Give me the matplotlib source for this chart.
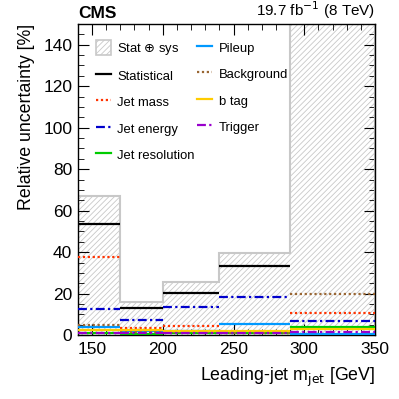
import matplotlib
matplotlib.use("Agg")
import matplotlib.pyplot as plt
import numpy as np
from matplotlib.patches import Patch
from matplotlib.lines import Line2D
from matplotlib.ticker import MultipleLocator

plt.rcParams['font.family'] = ['Liberation Sans', 'DejaVu Sans']
plt.rcParams['hatch.color'] = '#c8c8c8'
plt.rcParams['hatch.linewidth'] = 0.6

edges = [140, 170, 200, 240, 290, 350]
stat_sys = [67, 16, 25.5, 39.5, 160]
statistical = [53.5, 13, 20.5, 33.5, 155]
jet_mass = [37.5, 3.5, 4.5, 1.5, 10.5]
jet_energy = [12.5, 7.5, 13.5, 18.5, 7]
jet_res = [1.0, 0.8, 1.0, 1.0, 4.0]
pileup = [4.0, 2.0, 2.0, 5.5, 0.8]
background = [5.0, 1.5, 1.5, 1.2, 20]
btag = [2.5, 2.5, 2.0, 2.0, 3.0]
trigger = [1.0, 1.0, 1.0, 1.0, 1.5]

fig = plt.figure(figsize=(3.99, 3.99), dpi=100)
ax = fig.add_axes([0.195, 0.16, 0.745, 0.78])

ax.stairs(stat_sys, edges, fill=True, facecolor='white', edgecolor='#c8c8c8',
          hatch='//////', linewidth=0, zorder=1)
ax.stairs(stat_sys, edges, fill=False, edgecolor='#c8c8c8', linewidth=1.5, zorder=2)

dashdot = (0, (4, 1.5, 1, 1.5))
dotted = (0, (1, 1.2))
lo = np.array(edges[:-1]); hi = np.array(edges[1:])
series = [
    (statistical, '#000000', '-', 'Statistical'),
    (jet_mass, '#ff3300', dotted, 'Jet mass'),
    (jet_energy, '#0000cc', dashdot, 'Jet energy'),
    (jet_res, '#00cc00', '-', 'Jet resolution'),
    (pileup, '#0099ff', '-', 'Pileup'),
    (background, '#996633', dotted, 'Background'),
    (btag, '#ffcc00', '-', 'b tag'),
    (trigger, '#9900cc', dashdot, 'Trigger'),
]
handles = {}
for vals, col, ls, lab in series:
    ax.hlines(vals, lo, hi, colors=col, linestyles=[ls], linewidth=1.6, zorder=3)
    handles[lab] = Line2D([0], [0], color=col, ls=ls, lw=1.6)

stat_handle = Patch(facecolor='white', edgecolor='#c8c8c8', hatch='//////', linewidth=1.2)
order = [(stat_handle, 'Stat $\\oplus$ sys'), (handles['Statistical'], 'Statistical'),
         (handles['Jet mass'], 'Jet mass'), (handles['Jet energy'], 'Jet energy'),
         (handles['Jet resolution'], 'Jet resolution'),
         (handles['Pileup'], 'Pileup'), (handles['Background'], 'Background'),
         (handles['b tag'], 'b tag'), (handles['Trigger'], 'Trigger')]
leg = ax.legend([h for h, l in order], [l for h, l in order], ncol=2, frameon=False,
                loc='upper left', bbox_to_anchor=(0.02, 0.985), fontsize=9.4,
                handlelength=1.15, handleheight=1.4, handletextpad=0.5, columnspacing=0.2,
                labelspacing=0.85)

ax.set_xlim(140, 350)
ax.set_ylim(0, 150)
ax.xaxis.set_major_locator(MultipleLocator(50))
ax.xaxis.set_minor_locator(MultipleLocator(10))
ax.yaxis.set_major_locator(MultipleLocator(20))
ax.yaxis.set_minor_locator(MultipleLocator(5))
ax.tick_params(which='both', direction='in', top=True, right=True, labelsize=12.5)
ax.tick_params(which='major', length=8)
ax.tick_params(which='minor', length=4)
ax.tick_params(axis='x', pad=5)
ax.tick_params(axis='y', pad=4)
for s in ax.spines.values():
    s.set_linewidth(1.0)

ax.set_ylabel('Relative uncertainty [%]', fontsize=12.8, loc='top', labelpad=6)
ax.set_xlabel('Leading-jet m$_{\\rm jet}$ [GeV]', fontsize=12.8, loc='right', labelpad=6)

ax.text(0.0, 1.008, 'CMS', transform=ax.transAxes, fontsize=12.5, fontweight='bold',
        ha='left', va='bottom')
ax.text(1.0, 1.008, '19.7 fb$^{\\mathrm{-1}}$ (8 TeV)', transform=ax.transAxes, fontsize=11,
        ha='right', va='bottom')

fig.savefig('out.png', dpi=100)
